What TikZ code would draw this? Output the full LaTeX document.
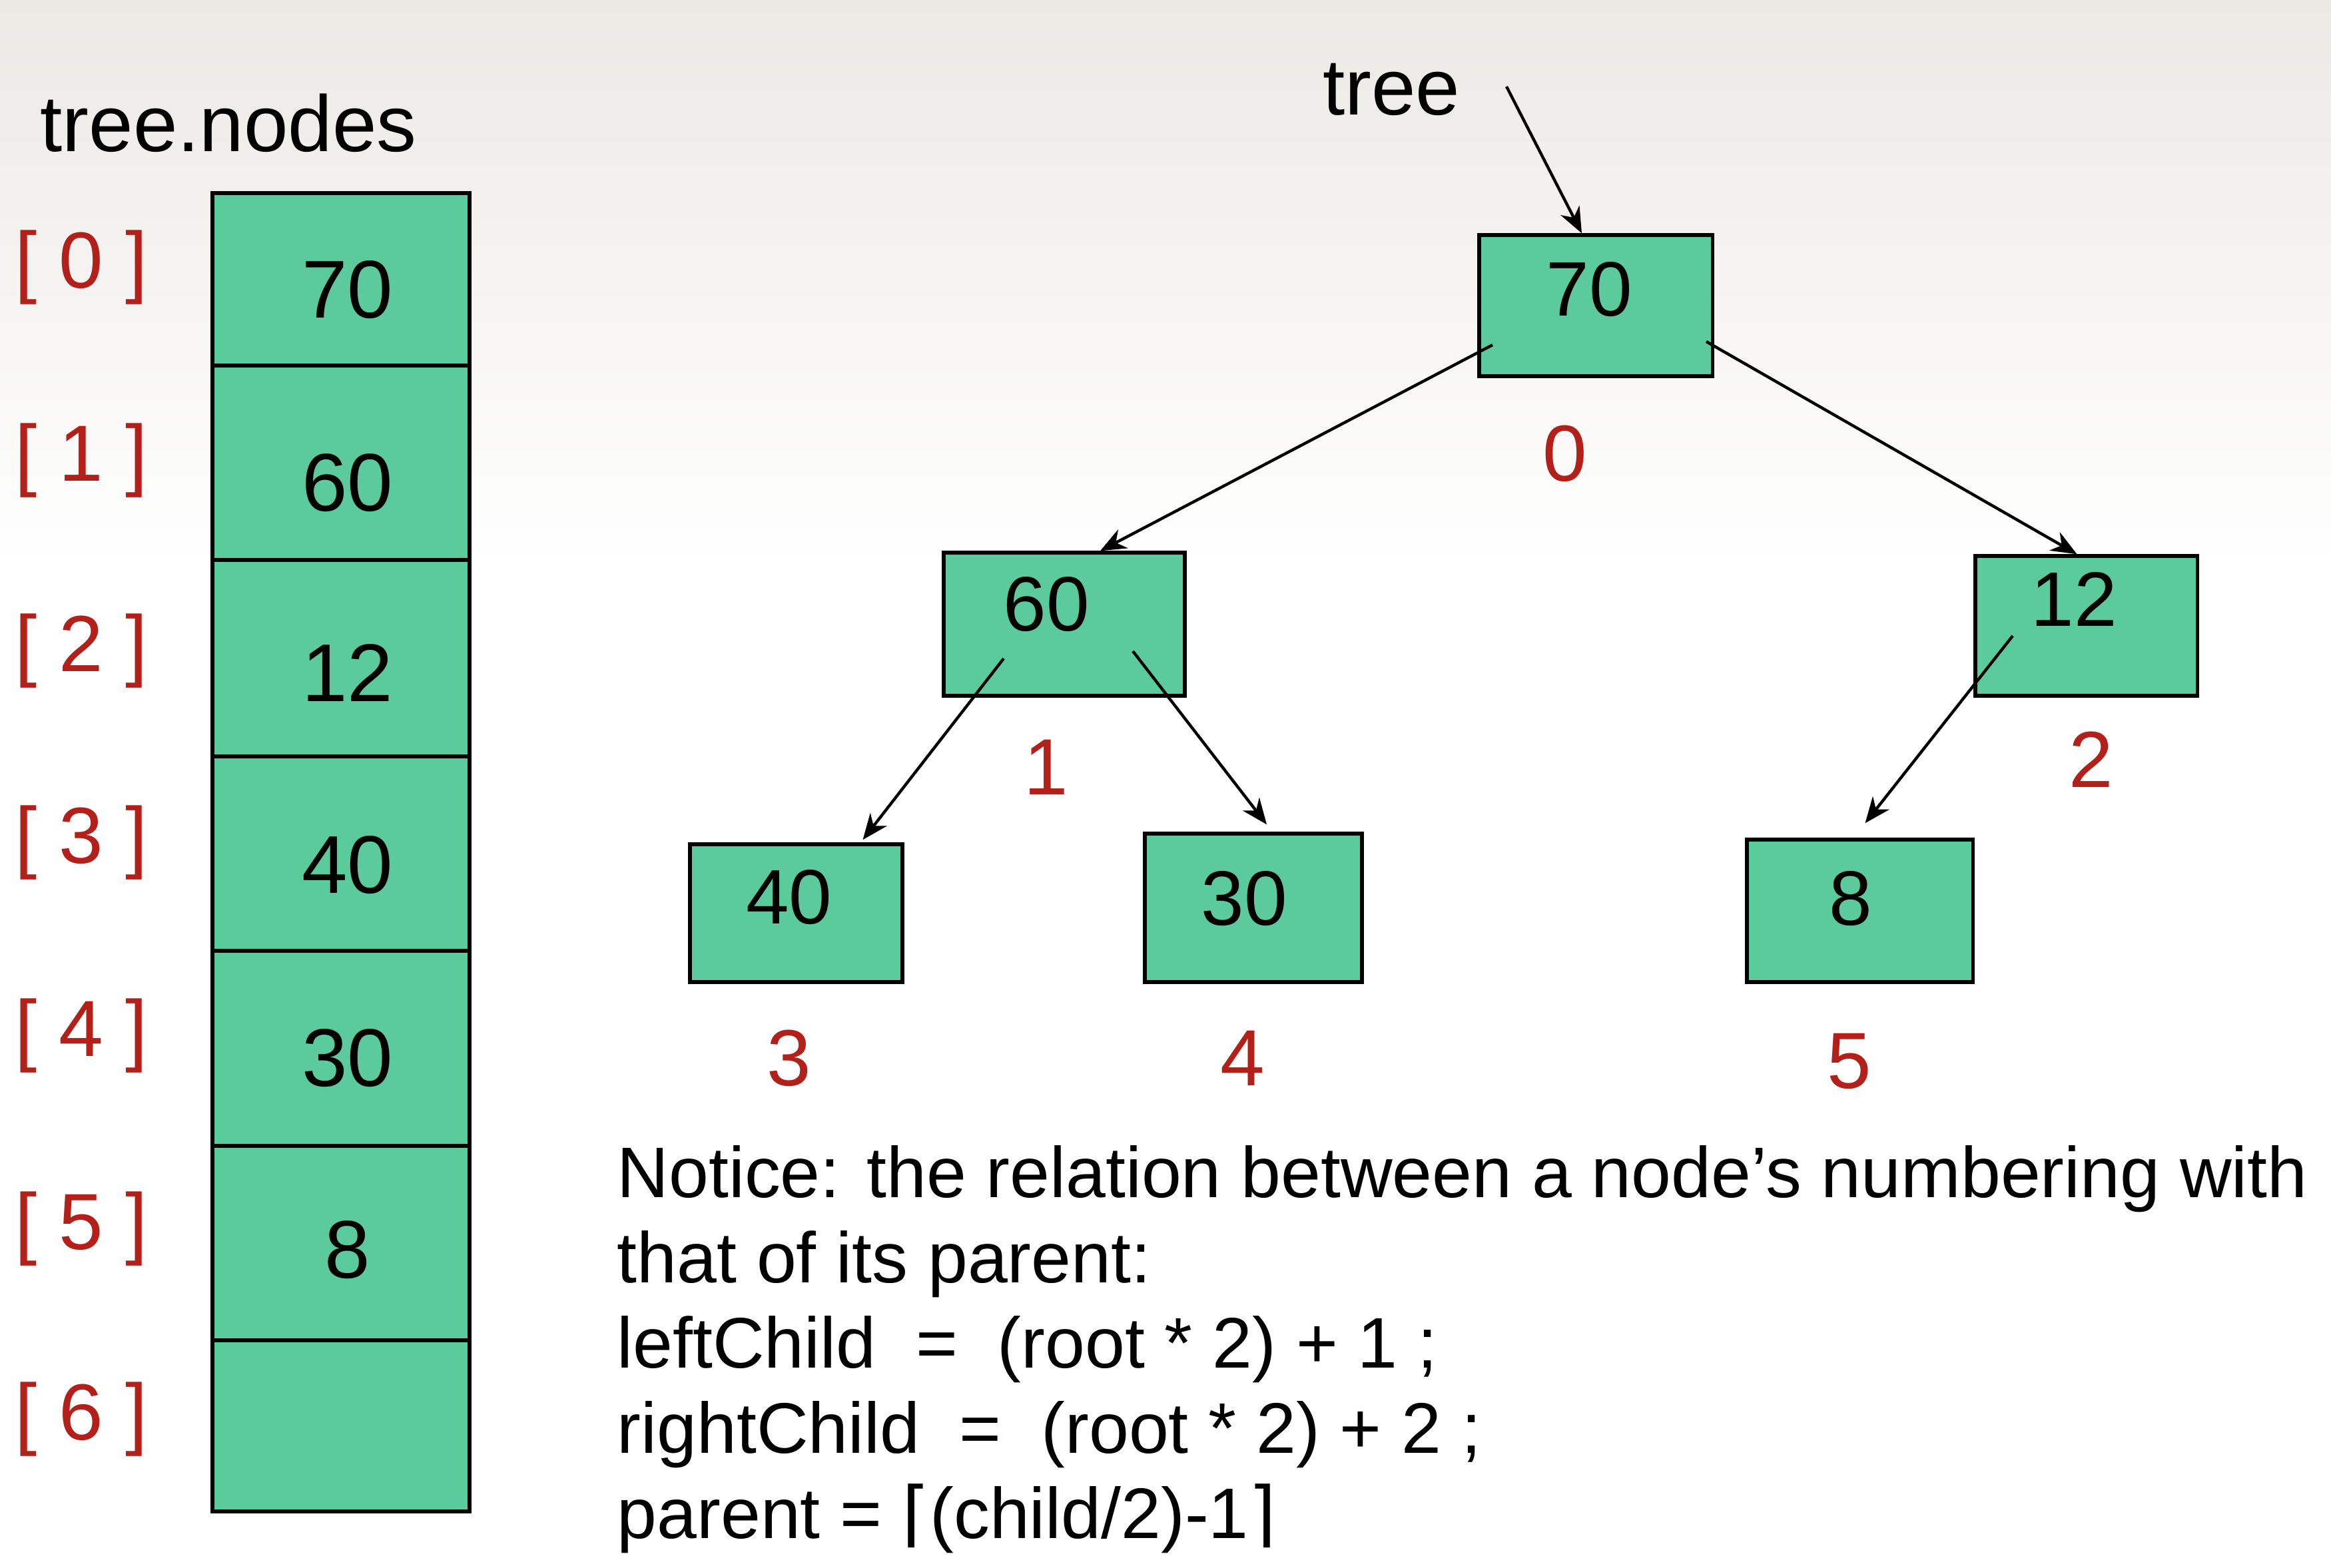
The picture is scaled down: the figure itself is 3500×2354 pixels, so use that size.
\documentclass[tikz,border=0pt]{standalone}
\usepackage{fontspec}
\setmainfont{Liberation Sans}
\newfontfamily\dejavu{DejaVu Sans}
\usetikzlibrary{arrows.meta,calc}
\definecolor{cellgreen}{HTML}{5BCA9D}
\definecolor{idxred}{HTML}{B3201A}
\definecolor{bgtop}{HTML}{EBE9E4}
\begin{document}
\begin{tikzpicture}[x=0.01cm,y=-0.01cm,
  box/.style={draw=black, line width=1.5pt, fill=cellgreen, inner sep=0pt},
  num/.style={font=\fontsize{33}{40}\selectfont, inner sep=0pt},
  anum/.style={font=\fontsize{35}{40}\selectfont, inner sep=0pt},
  idx/.style={font=\fontsize{34}{40}\selectfont, text=idxred, inner sep=0pt},
  lbl/.style={font=\fontsize{34}{40}\selectfont, inner sep=0pt},
  arr/.style={line width=1.25pt, -{Stealth[length=11pt,width=9pt,inset=3.5pt]}}]
\useasboundingbox (0,0) rectangle (3500,2354);
\fill[white] (0,0) rectangle (3500,2354);
\shade[top color=bgtop, bottom color=white] (0,0) rectangle (3500,850);

% array
\node[lbl, anchor=west] (arrtitle) at (60,185) {tree.nodes};
\node[box, minimum width=3.86cm, minimum height=2.59cm] (c0) at (512,419.5) {};
\node[box, minimum width=3.86cm, minimum height=2.92cm] (c1) at (512,695) {};
\node[box, minimum width=3.86cm, minimum height=2.95cm] (c2) at (512,988.5) {};
\node[box, minimum width=3.86cm, minimum height=2.92cm] (c3) at (512,1282) {};
\node[box, minimum width=3.86cm, minimum height=2.93cm] (c4) at (512,1574.5) {};
\node[box, minimum width=3.86cm, minimum height=2.92cm] (c5) at (512,1867) {};
\node[box, minimum width=3.86cm, minimum height=2.57cm] (c6) at (512,2141.5) {};
\node[anum] (a0) at (522,435) {70};
\node[anum] (a1) at (522,725) {60};
\node[anum] (a2) at (522,1011) {12};
\node[anum] (a3) at (522,1299) {40};
\node[anum] (a4) at (522,1589) {30};
\node[anum] (a5) at (522,1877) {8};
\node[idx] (i0) at (122,402) {[ 0 ]};
\node[idx] (i1) at (122,692) {[ 1 ]};
\node[idx] (i2) at (122,978) {[ 2 ]};
\node[idx] (i3) at (122,1266) {[ 3 ]};
\node[idx] (i4) at (122,1556) {[ 4 ]};
\node[idx] (i5) at (122,1846) {[ 5 ]};
\node[idx] (i6) at (122,2132) {[ 6 ]};

% tree
\node[box, minimum width=3.50cm, minimum height=2.12cm] (n0) at (2396,459) {};
\node[box, minimum width=3.62cm, minimum height=2.15cm] (n1) at (1598,937.5) {};
\node[box, minimum width=3.33cm, minimum height=2.10cm] (n2) at (3132.5,940) {};
\node[box, minimum width=3.19cm, minimum height=2.07cm] (n3) at (1195.5,1371.5) {};
\node[box, minimum width=3.26cm, minimum height=2.23cm] (n4) at (1882,1363.5) {};
\node[box, minimum width=3.39cm, minimum height=2.14cm] (n5) at (2792.5,1368) {};
\node[num] (t0) at (2386,435) {70};
\node[num] (t1) at (1571,908) {60};
\node[num] (t2) at (3114,900) {12};
\node[num] (t3) at (1185,1348) {40};
\node[num] (t4) at (1868,1350) {30};
\node[num] (t5) at (2779,1350) {8};
\node[idx] (k0) at (2350,681) {0};
\node[idx] (k1) at (1571,1152) {1};
\node[idx] (k2) at (3140,1141) {2};
\node[idx] (k3) at (1185,1589) {3};
\node[idx] (k4) at (1866,1589) {4};
\node[idx] (k5) at (2777,1594) {5};
\node[lbl] (treelbl) at (2089,134) {tree};

\coordinate (s0) at (2262,130);
\coordinate (s01) at (2241,518);
\coordinate (s02) at (2562,513);
\coordinate (s13) at (1507,989);
\coordinate (s14) at (1701,978);
\coordinate (s25) at (3022,955);
\draw[arr] (s0) -- ($(n0.north)+(-21,0)$);
\draw[arr] (s01) -- ($(n1.north)+(54,0)$);
\draw[arr] (s02) -- ($(n2.north)+(-14,0)$);
\draw[arr] (s13) -- ($(n3.north)+(100,-4)$);
\draw[arr] (s14) -- ($(n4.north)+(20,-11)$);
\draw[arr] (s25) -- ($(n5.north)+(8,-22)$);

% notice text
\node[anchor=west, align=left, inner sep=0pt, font=\fontsize{30.6}{36.4}\selectfont] (notice) at (926,2027) {Notice: the relation between a node’s numbering with\\
that of its parent:\\
leftChild\ \ =\ \ (root * 2) + 1 ;\\
rightChild\ \ =\ \ (root * 2) + 2 ;\\
parent = {\dejavu ⌈}(child/2)-1{\dejavu ⌉}};
\end{tikzpicture}
\end{document}
